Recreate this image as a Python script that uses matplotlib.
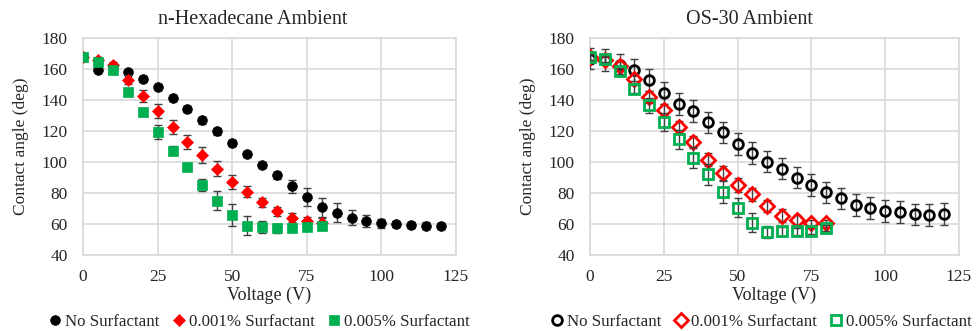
"""Contact angle vs voltage, two ambients, three surfactant levels."""

import matplotlib.pyplot as plt

plt.rcParams["font.family"] = ["Liberation Serif", "DejaVu Serif"]

voltage_long = [0, 5, 10, 15, 20, 25, 30, 35, 40, 45, 50, 55, 60, 65, 70, 75,
                80, 85, 90, 95, 100, 105, 110, 115, 120]
voltage_short = [0, 5, 10, 15, 20, 25, 30, 35, 40, 45, 50, 55, 60, 65, 70,
                 75, 80]

# n-Hexadecane ambient
hex_none = [168, 159.5, 162, 157.8, 153.7, 148.3, 141.2, 134.1, 126.8, 119.7,
            112.2, 105.3, 97.9, 91.3, 84.2, 77.3, 70.8, 67.4, 64.1, 62.0,
            60.5, 59.8, 59.2, 59.0, 58.7]
hex_none_err = [1, 1.5, 1.5, 1.5, 2, 2, 2, 2, 2, 2, 2, 2, 2, 2, 4, 6, 6, 6,
                5, 4, 3, 2, 2, 2, 2]
hex_low = [168, 166, 162.8, 153.1, 142.7, 133.0, 122.7, 113.0, 104.6, 95.8,
           87.4, 80.7, 74.0, 68.2, 64.1, 61.8, 60.9]
hex_low_err = [1, 1.5, 2, 3, 4, 4.5, 4.5, 4.5, 5, 5, 4.5, 3.5, 3, 3, 3, 2.5,
               3]
hex_high = [167.7, 164.3, 159.3, 145.1, 132.0, 119.5, 107.4, 96.6, 85.0,
            75.1, 65.6, 59.0, 57.9, 57.2, 57.7, 58.3, 58.7]
hex_high_err = [1, 1.5, 1.5, 1.5, 2, 4.5, 3, 1, 4, 6, 7, 6, 4, 3, 1.5, 1.5,
                1.5]

# OS-30 ambient
os_none = [166.7, 165.6, 162.8, 159.2, 152.8, 144.6, 137.5, 132.8, 125.5,
           119.1, 111.7, 105.9, 100.3, 95.8, 90.0, 85.1, 80.4, 76.5, 72.2,
           70.1, 68.6, 67.7, 66.2, 65.8, 66.6]
os_none_err = [7] * 25
os_low = [168, 166, 162, 153.4, 142.0, 133.4, 122.7, 113.0, 101.6, 93.1, 85.1,
          79.1, 71.6, 65.4, 62.5, 60.4, 60.4]
os_low_err = [2, 2, 3, 4, 4, 4, 4, 4, 4.5, 4.5, 4.5, 4, 4, 4, 3, 2.5, 2.5]
os_high = [167.8, 166.3, 158.6, 147.4, 136.6, 125.7, 114.7, 102.9, 92.0,
           80.8, 70.5, 60.9, 55.0, 55.2, 55.2, 55.8, 57.4]
os_high_err = [2, 2, 2, 3, 5, 6, 6, 7, 7, 7, 6, 6, 4, 3, 2, 2, 2]

labels = ["No Surfactant", "0.001% Surfactant", "0.005% Surfactant"]
titles = ["n-Hexadecane Ambient", "OS-30 Ambient"]

BLACK = "#000000"
RED = "#ff0000"
GREEN = "#00b050"
ERR = "#404040"
GRID = "#d9d9d9"
TEXT = "#262626"

fig = plt.figure(figsize=(9.78, 3.31), dpi=100)
ax_hex = fig.add_axes([83 / 978, 76 / 331, 373 / 978, 217 / 331])
ax_os = fig.add_axes([590 / 978, 76 / 331, 369 / 978, 217 / 331])

series = {
    ax_hex: [(voltage_long, hex_none, hex_none_err),
             (voltage_short, hex_low, hex_low_err),
             (voltage_short, hex_high, hex_high_err)],
    ax_os: [(voltage_long, os_none, os_none_err),
            (voltage_short, os_low, os_low_err),
            (voltage_short, os_high, os_high_err)],
}

colors = [BLACK, RED, GREEN]
markers = ["o", "D", "s"]
filled_sizes = [7, 6, 7.5]
open_sizes = [7, 7, 6.8]

# title and legend centres, in figure pixels (chart area, not plot area)
title_x = [253, 749]
legend_x = [259, 761]

for idx, ax in enumerate([ax_hex, ax_os]):
    is_open = ax is ax_os
    for k, (x, y, err) in enumerate(series[ax]):
        ax.errorbar(
            x, y, yerr=err,
            fmt="none", ecolor=ERR, elinewidth=1.0, capsize=3, capthick=1.0,
            zorder=3 + k,
        )
        ax.plot(
            x, y,
            linestyle="none",
            marker=markers[k],
            markersize=open_sizes[k] if is_open else filled_sizes[k],
            markerfacecolor="none" if is_open else colors[k],
            markeredgecolor=colors[k],
            markeredgewidth=2.0 if is_open else 0.5,
            label=labels[k],
            zorder=3.5 + k,
        )

    ax.set_xlim(0, 125)
    ax.set_ylim(40, 180)
    ax.set_xticks([0, 25, 50, 75, 100, 125])
    ax.set_yticks(range(40, 181, 20))
    ax.grid(True, color=GRID, linewidth=1.2)
    ax.set_axisbelow(True)
    for spine in ax.spines.values():
        spine.set_color(GRID)
        spine.set_linewidth(1.2)
    ax.tick_params(axis="y", length=0, labelsize=12.5, colors=TEXT, pad=11)
    ax.tick_params(axis="x", length=0, labelsize=12.5, colors=TEXT, pad=10)
    fig.text(title_x[idx] / 978, 1 - 19 / 331, titles[idx], fontsize=14.5,
             color=TEXT, ha="center", va="center")
    ax.set_xlabel("Voltage (V)", fontsize=13, color=TEXT, labelpad=1)
    ax.set_ylabel("Contact angle (deg)", fontsize=12.5, color=TEXT,
                  labelpad=9)

    ax.legend(
        loc="center", bbox_to_anchor=(legend_x[idx] / 978, 9 / 331),
        bbox_transform=fig.transFigure, ncol=3, frameon=False,
        fontsize=12.2, handletextpad=0.2, columnspacing=0.75,
        handlelength=0.8, borderpad=0, labelcolor=TEXT,
    )

fig.savefig("out.png", dpi=100)
